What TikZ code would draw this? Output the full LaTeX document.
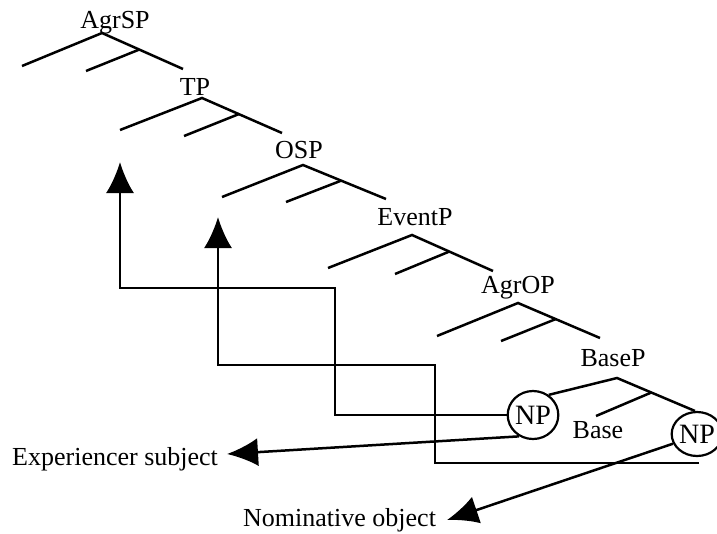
\documentclass[tikz,border=0pt]{standalone}
\usepackage{fontspec}
\setmainfont{Liberation Serif}
\usetikzlibrary{arrows.meta,shapes.geometric,calc}
\begin{document}
\begin{tikzpicture}[x=1pt,y=-1pt,
  lbl/.style={anchor=base,inner sep=0pt,font=\fontsize{26}{30}\selectfont},
  br/.style={line width=2.5pt},
  npbox/.style={draw,ellipse,line width=2.2pt,inner sep=0pt,font=\fontsize{28}{30}\selectfont},
  arr/.style={line width=2.5pt,-{Latex[length=31pt,width=28pt]}}]
\useasboundingbox (0,0) rectangle (717,533);
% labels
\node[lbl] (agrsp) at (115,28) {AgrSP};
\node[lbl] (tp) at (195,95) {TP};
\node[lbl] (osp) at (299,158) {OSP};
\node[lbl] (eventp) at (415,225) {EventP};
\node[lbl] (agrop) at (518,293) {AgrOP};
\node[lbl] (basep) at (613,366) {BaseP};
\node[lbl] (base) at (598,438) {Base};
\node[lbl,anchor=base west] (exp) at (12,465) {Experiencer subject};
\node[lbl,anchor=base west] (nom) at (243,526) {Nominative object};
\node[npbox,minimum width=44pt,minimum height=48pt] (np1) at (533,415) {NP};
\node[npbox,minimum width=46pt,minimum height=44pt] (np2) at (697,434) {NP};
% tree branch points
\coordinate (a0) at (102,33); \coordinate (aL) at (22,66); \coordinate (aR) at (183,69);
\coordinate (aI) at (86,71);
\coordinate (b0) at (202,98); \coordinate (bL) at (120,130); \coordinate (bR) at (282,133);
\coordinate (bI) at (184,136);
\coordinate (c0) at (303,165); \coordinate (cL) at (222,197); \coordinate (cR) at (386,199);
\coordinate (cI) at (286,202);
\coordinate (d0) at (412,235); \coordinate (dL) at (328,268); \coordinate (dR) at (493,271);
\coordinate (dI) at (395,274);
\coordinate (e0) at (518,303); \coordinate (eL) at (437,336); \coordinate (eR) at (600,338);
\coordinate (eI) at (501,341);
\coordinate (f0) at (617,378); \coordinate (fI) at (596,416);
\foreach \p in {a,b,c,d,e}{
  \draw[br] (\p L) -- (\p 0) -- (\p R);
  \draw[br] ($(\p 0)!0.46!(\p R)$) -- (\p I);
}
\draw[br] (np1.52) -- (f0) -- (np2.95);
\draw[br] ($(f0)!0.44!(np2.95)$) -- (fI);
% movement arrows
\coordinate (m1) at (335,288);
\coordinate (t1) at (120,162);
\draw[arr] (np1.west) -| (m1) -| (t1);
\coordinate (s2) at (699,463);
\coordinate (m2) at (435,365);
\coordinate (t2) at (218,217);
\draw[arr] (s2) -| (m2) -| (t2);
% case arrows
\coordinate (t3) at (227,454);
\coordinate (t4) at (447,520);
\draw[arr] (np1.237) -- (t3);
\draw[arr] (np2.202) -- (t4);
\end{tikzpicture}
\end{document}
